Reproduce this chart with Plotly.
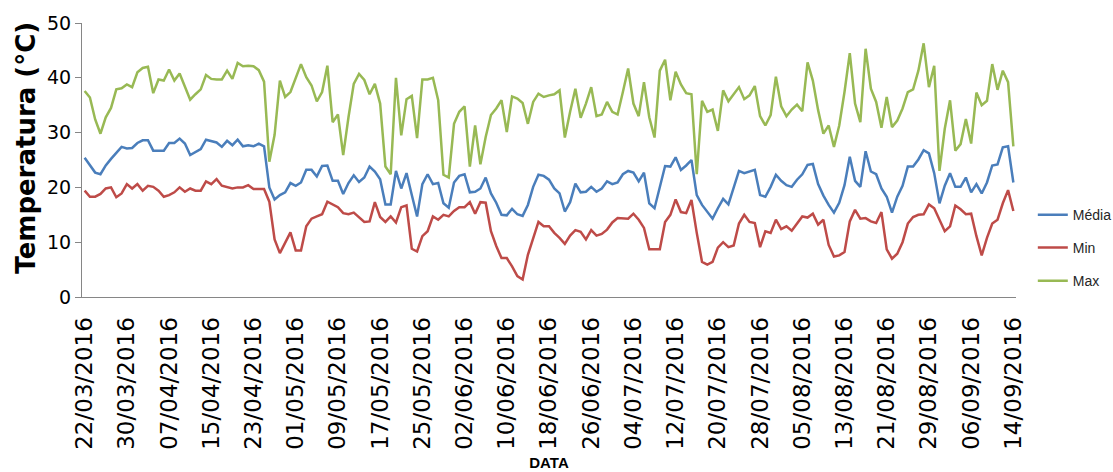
import pandas as pd
import plotly.graph_objects as go

start_date = "2016-03-22"
end_date = "2016-09-14"

media = [25.4, 24.0, 22.7, 22.4, 24.0, 25.2, 26.4, 27.4, 27.1, 27.2, 28.1, 28.6, 28.6, 26.7, 26.7, 26.7, 28.1, 28.1, 28.9, 28.0,
         25.9, 26.4, 27.0, 28.7, 28.4, 28.2, 27.4, 28.5, 27.7, 28.7, 27.5, 27.7, 27.5, 28.0, 27.5, 20.0,
         17.8, 18.6, 19.1, 20.8, 20.3, 20.9, 23.2, 23.2, 22.0, 23.9, 24.0, 21.2, 21.2, 18.8, 20.8, 22.2, 21.0, 21.8, 23.8, 22.9,
         21.5, 16.9, 16.9, 23.0, 19.8, 22.6, 18.6, 14.7, 20.6, 22.4, 20.6, 20.8, 17.1, 16.3, 20.9,
         22.1, 22.4, 19.1, 19.2, 19.8, 21.8, 18.9, 17.2, 15.0, 14.9, 16.1, 15.1, 14.8, 16.8, 20.1, 22.3, 22.1, 21.4, 19.8, 18.9,
         15.6, 17.3, 20.7, 19.1, 19.2, 20.1, 19.2, 19.8, 21.1, 20.6, 20.9, 22.4, 23.0, 22.7, 21.1, 22.7,
         17.1, 16.2, 20.1, 23.9, 23.8, 25.5, 23.2, 24.0, 25.0, 18.6, 16.8, 15.6, 14.3, 16.2, 17.9, 16.9, 20.1, 23.0, 22.6, 22.9,
         23.2, 18.6, 18.3, 20.1, 22.3, 21.2, 20.4, 20.1, 21.4, 22.4, 24.1, 24.3, 20.6, 18.5, 16.8,
         15.4, 17.2, 20.4, 25.6, 21.2, 20.1, 26.6, 22.9, 22.4, 19.8, 18.3, 15.4, 18.3, 20.3, 23.8, 23.8, 25.1, 26.8, 26.2, 22.6,
         17.1, 20.3, 22.6, 20.1, 20.1, 21.8, 19.1, 20.6, 18.9, 20.9, 24.0, 24.2, 27.3, 27.5, 20.9]

minimo = [19.4, 18.3, 18.3, 18.8, 19.8, 20.0, 18.2, 18.9, 20.6, 19.8, 20.6, 19.4, 20.3, 20.1, 19.4, 18.3, 18.6, 19.1, 20.0, 19.2,
          19.8, 19.4, 19.4, 21.1, 20.6, 21.5, 20.3, 20.0, 19.8, 20.0, 20.0, 20.4, 19.7, 19.7, 19.7,
          17.4, 10.5, 8.0, 9.9, 11.8, 8.5, 8.5, 12.9, 14.3, 14.7, 15.1, 17.4, 16.9, 16.4, 15.3, 15.1, 15.4, 14.6, 13.7, 13.8,
          17.3, 14.6, 13.7, 14.7, 13.6, 16.4, 16.7, 8.8, 8.3, 11.1, 12.0, 14.7, 14.1, 15.0, 14.7, 15.7,
          16.4, 16.4, 17.3, 15.2, 17.3, 17.2, 12.0, 9.3, 7.1, 7.1, 5.6, 3.8, 3.2, 7.7, 10.5, 13.7, 12.9, 12.9, 11.7, 10.8,
          9.7, 11.2, 12.2, 11.9, 10.5, 12.2, 11.2, 11.5, 12.3, 13.6, 14.4, 14.4, 14.3, 15.2, 14.1, 12.6,
          8.7, 8.7, 8.7, 13.7, 15.0, 17.8, 15.5, 15.3, 17.7, 11.7, 6.4, 5.9, 6.4, 9.0, 10.0, 9.1, 9.4, 13.4, 15.0, 13.7,
          13.5, 9.1, 12.0, 11.7, 14.1, 12.4, 12.9, 12.1, 13.5, 14.7, 14.5, 15.2, 13.2, 14.1, 9.5,
          7.4, 7.6, 8.2, 13.8, 15.9, 14.3, 14.4, 13.8, 13.5, 15.5, 8.7, 7.0, 7.9, 10.0, 13.4, 14.6, 15.0, 15.1, 16.9, 16.2,
          14.1, 12.0, 12.9, 16.7, 16.0, 15.1, 15.2, 11.1, 7.6, 10.8, 13.4, 14.1, 17.1, 19.5, 15.7]

maximo = [37.6, 36.4, 32.4, 29.8, 32.8, 34.5, 37.9, 38.1, 38.8, 38.3, 41.0, 41.8, 42.0, 37.2, 39.7, 39.5, 41.5, 39.5, 40.8, 38.4,
          36.0, 37.0, 37.9, 40.5, 39.8, 39.7, 39.7, 41.3, 39.8, 42.7, 42.1, 42.2, 42.1, 41.4, 39.3,
          24.7, 29.6, 39.5, 36.5, 37.4, 40.0, 42.5, 40.1, 38.6, 35.7, 37.4, 42.2, 31.9, 33.3, 25.9, 32.8, 38.9, 40.7, 39.6, 37.0,
          38.9, 35.3, 23.8, 22.4, 40.0, 29.5, 36.1, 36.7, 29.0, 39.7, 39.7, 40.0, 35.9, 22.3, 21.8, 31.6,
          33.8, 34.8, 23.8, 31.3, 24.2, 29.2, 33.2, 34.4, 35.9, 30.1, 36.6, 36.2, 35.4, 31.6, 35.6, 37.1, 36.5, 36.8, 37.0, 37.7,
          29.1, 33.8, 38.0, 32.7, 35.3, 38.3, 33.0, 33.3, 35.6, 33.8, 33.3, 37.4, 41.7, 35.3, 33.0, 39.2,
          32.8, 29.1, 41.3, 43.3, 35.9, 41.1, 38.8, 37.2, 37.0, 22.4, 35.8, 33.8, 34.2, 30.3, 37.7, 35.7, 37.1, 38.3, 36.1, 36.8,
          38.5, 33.0, 31.3, 33.2, 40.2, 34.8, 33.0, 34.2, 35.1, 33.9, 42.8, 39.5, 34.1, 29.8, 31.3,
          27.4, 31.3, 37.4, 44.5, 35.3, 31.9, 45.3, 38.0, 35.6, 30.9, 36.5, 31.0, 32.2, 34.4, 37.4, 37.9, 41.3, 46.3, 38.3, 42.2,
          23.0, 30.7, 35.9, 26.7, 27.9, 32.5, 28.0, 37.3, 35.0, 35.8, 42.5, 37.8, 41.3, 39.2, 27.5]

dates = pd.date_range(start_date, end_date, freq="D")
assert len(dates) == len(media) == len(minimo) == len(maximo), (len(dates), len(media), len(minimo), len(maximo))

tick_dates = dates[::8]
tick_labels = [d.strftime("%d/%m/%Y") for d in tick_dates]

series_names = ["Média", "Min", "Max"]
series_values = [media, minimo, maximo]
colors = ["#4A7EBB", "#BE4B48", "#98B954"]
legend_ids = ["legend", "legend2", "legend3"]

fig = go.Figure()
for name, vals, col, lg in zip(series_names, series_values, colors, legend_ids):
    fig.add_trace(go.Scatter(x=dates, y=vals, mode="lines", name=name,
                             line=dict(color=col, width=2.5), legend=lg))

axis_font = "DejaVu Sans, Verdana, sans-serif"
leg_common = dict(x=1.018, xanchor="left", yanchor="middle", bgcolor="rgba(0,0,0,0)",
                  font=dict(family="Liberation Sans, Arial, sans-serif", size=14, color="#262626"))

fig.update_layout(
    width=1113, height=472,
    margin=dict(l=82, r=97, t=23, b=175, autoexpand=False),
    plot_bgcolor="white", paper_bgcolor="white",
    showlegend=True,
    legend=dict(y=0.299, **leg_common),
    legend2=dict(y=0.179, **leg_common),
    legend3=dict(y=0.058, **leg_common),
    xaxis=dict(
        type="date", automargin=False,
        range=[dates[0] - pd.Timedelta(hours=12), dates[-1] + pd.Timedelta(hours=12)],
        tickvals=list(tick_dates), ticktext=tick_labels, tickangle=-90,
        showgrid=False, zeroline=False, showline=True, linecolor="#868686", linewidth=1,
        ticks="", ticklabelstandoff=10, tickfont=dict(family=axis_font, size=23, color="black"),
        title=dict(text="<b>DATA</b>", font=dict(family="Liberation Sans Narrow, Liberation Sans, Arial, sans-serif", size=15, color="black"), standoff=8),
    ),
    yaxis=dict(
        range=[0, 50], dtick=10, tick0=0, automargin=False,
        showgrid=False, zeroline=False, showline=True, linecolor="#868686", linewidth=1,
        ticks="outside", ticklen=6, tickcolor="#868686",
        tickfont=dict(family=axis_font, size=19, color="black"),
    ),
    annotations=[dict(
        text="<b>Temperatura (°C)</b>", textangle=-90, showarrow=False,
        xref="paper", yref="paper", x=-0.06, y=0.545, xanchor="center", yanchor="middle",
        font=dict(family=axis_font, size=26, color="black"),
    )],
)

fig.write_html("out.html", config={"displayModeBar": False},
               post_script="document.body.style.margin='0';")
